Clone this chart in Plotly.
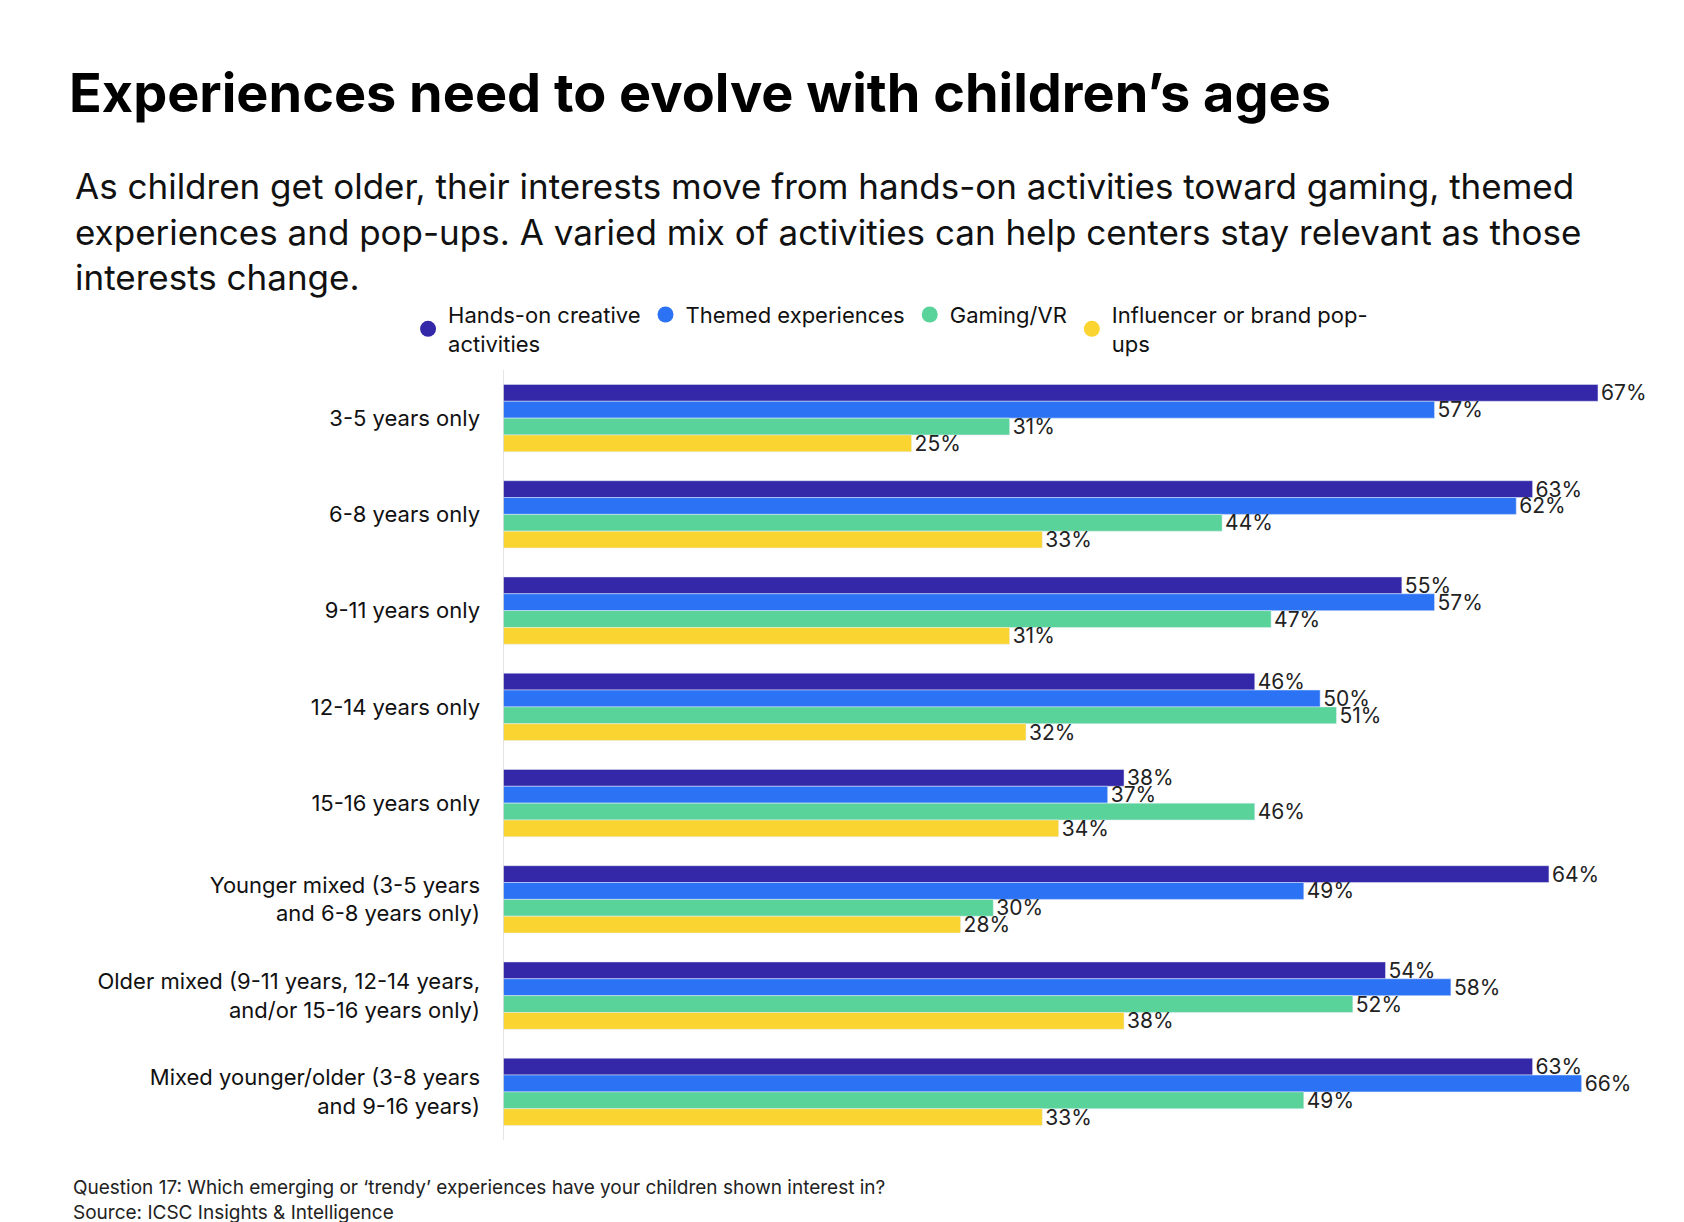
import plotly.graph_objects as go

categories = [
    "3-5 years only",
    "6-8 years only",
    "9-11 years only",
    "12-14 years only",
    "15-16 years only",
    "Younger mixed (3-5 years<br>and 6-8 years only)",
    "Older mixed (9-11 years, 12-14 years,<br>and/or 15-16 years only)",
    "Mixed younger/older (3-8 years<br>and 9-16 years)",
]
series_names = [
    "Hands-on creative<br>activities",
    "Themed experiences",
    "Gaming/VR",
    "Influencer or brand pop-<br>ups",
]
hands_on = [67, 63, 55, 46, 38, 64, 54, 63]
themed = [57, 62, 57, 50, 37, 49, 58, 66]
gaming = [31, 44, 47, 51, 46, 30, 52, 49]
popups = [25, 33, 31, 32, 34, 28, 38, 33]
colors = ["#3528A8", "#2B72F5", "#5AD39B", "#FAD531"]

fig = go.Figure()
for name, vals, col in zip(series_names, [hands_on, themed, gaming, popups], colors):
    fig.add_trace(go.Bar(
        y=categories, x=vals, orientation="h", marker_color=col,
        text=[f"{v}%" for v in vals], textposition="outside", cliponaxis=False,
        constraintext="none",
        textfont=dict(size=21, color="#222"), showlegend=False,
    ))
    fig.add_trace(go.Scatter(
        x=[None], y=[None], mode="markers", name=name,
        marker=dict(symbol="circle", size=40, color=col),
    ))

fig.update_layout(
    width=1684, height=1222,
    font=dict(family="Inter, Lato, sans-serif", color="#111"),
    plot_bgcolor="white", paper_bgcolor="white",
    margin=dict(l=495, r=45, t=362, b=90),
    barmode="group", bargap=0.3, bargroupgap=0,
    xaxis=dict(range=[0, 70], visible=False),
    yaxis=dict(autorange="reversed", showline=False, ticks="",
               tickfont=dict(size=22, color="#111"), ticklabelstandoff=22),
    legend=dict(orientation="h", x=-0.083, xanchor="left", y=1.053, yanchor="middle",
                font=dict(size=22), itemsizing="trace", traceorder="normal"),
    shapes=[dict(type="line", xref="x", yref="paper", x0=0, x1=0, y0=0, y1=1,
                 line=dict(color="#ddd", width=1.5))],
    annotations=[
        dict(text="<b>Experiences need to evolve with children’s ages</b>", xref="paper", yref="paper",
             x=-0.381, y=1.361, xanchor="left", yanchor="middle", showarrow=False,
             font=dict(size=54, color="#000")),
        dict(text="As children get older, their interests move from hands-on activities toward gaming, themed<br>"
                  "experiences and pop-ups. A varied mix of activities can help centers stay relevant as those<br>"
                  "interests change.",
             xref="paper", yref="paper", x=-0.376, y=1.18, xanchor="left", yanchor="middle",
             showarrow=False, align="left", font=dict(size=35, color="#111")),
        dict(text="Question 17: Which emerging or ‘trendy’ experiences have your children shown interest in?<br>"
                  "Source: ICSC Insights & Intelligence",
             xref="paper", yref="paper", x=-0.378, y=-0.044, xanchor="left", yanchor="top",
             showarrow=False, align="left", font=dict(size=19, color="#222")),
    ],
)

fig.write_html("out.html")
